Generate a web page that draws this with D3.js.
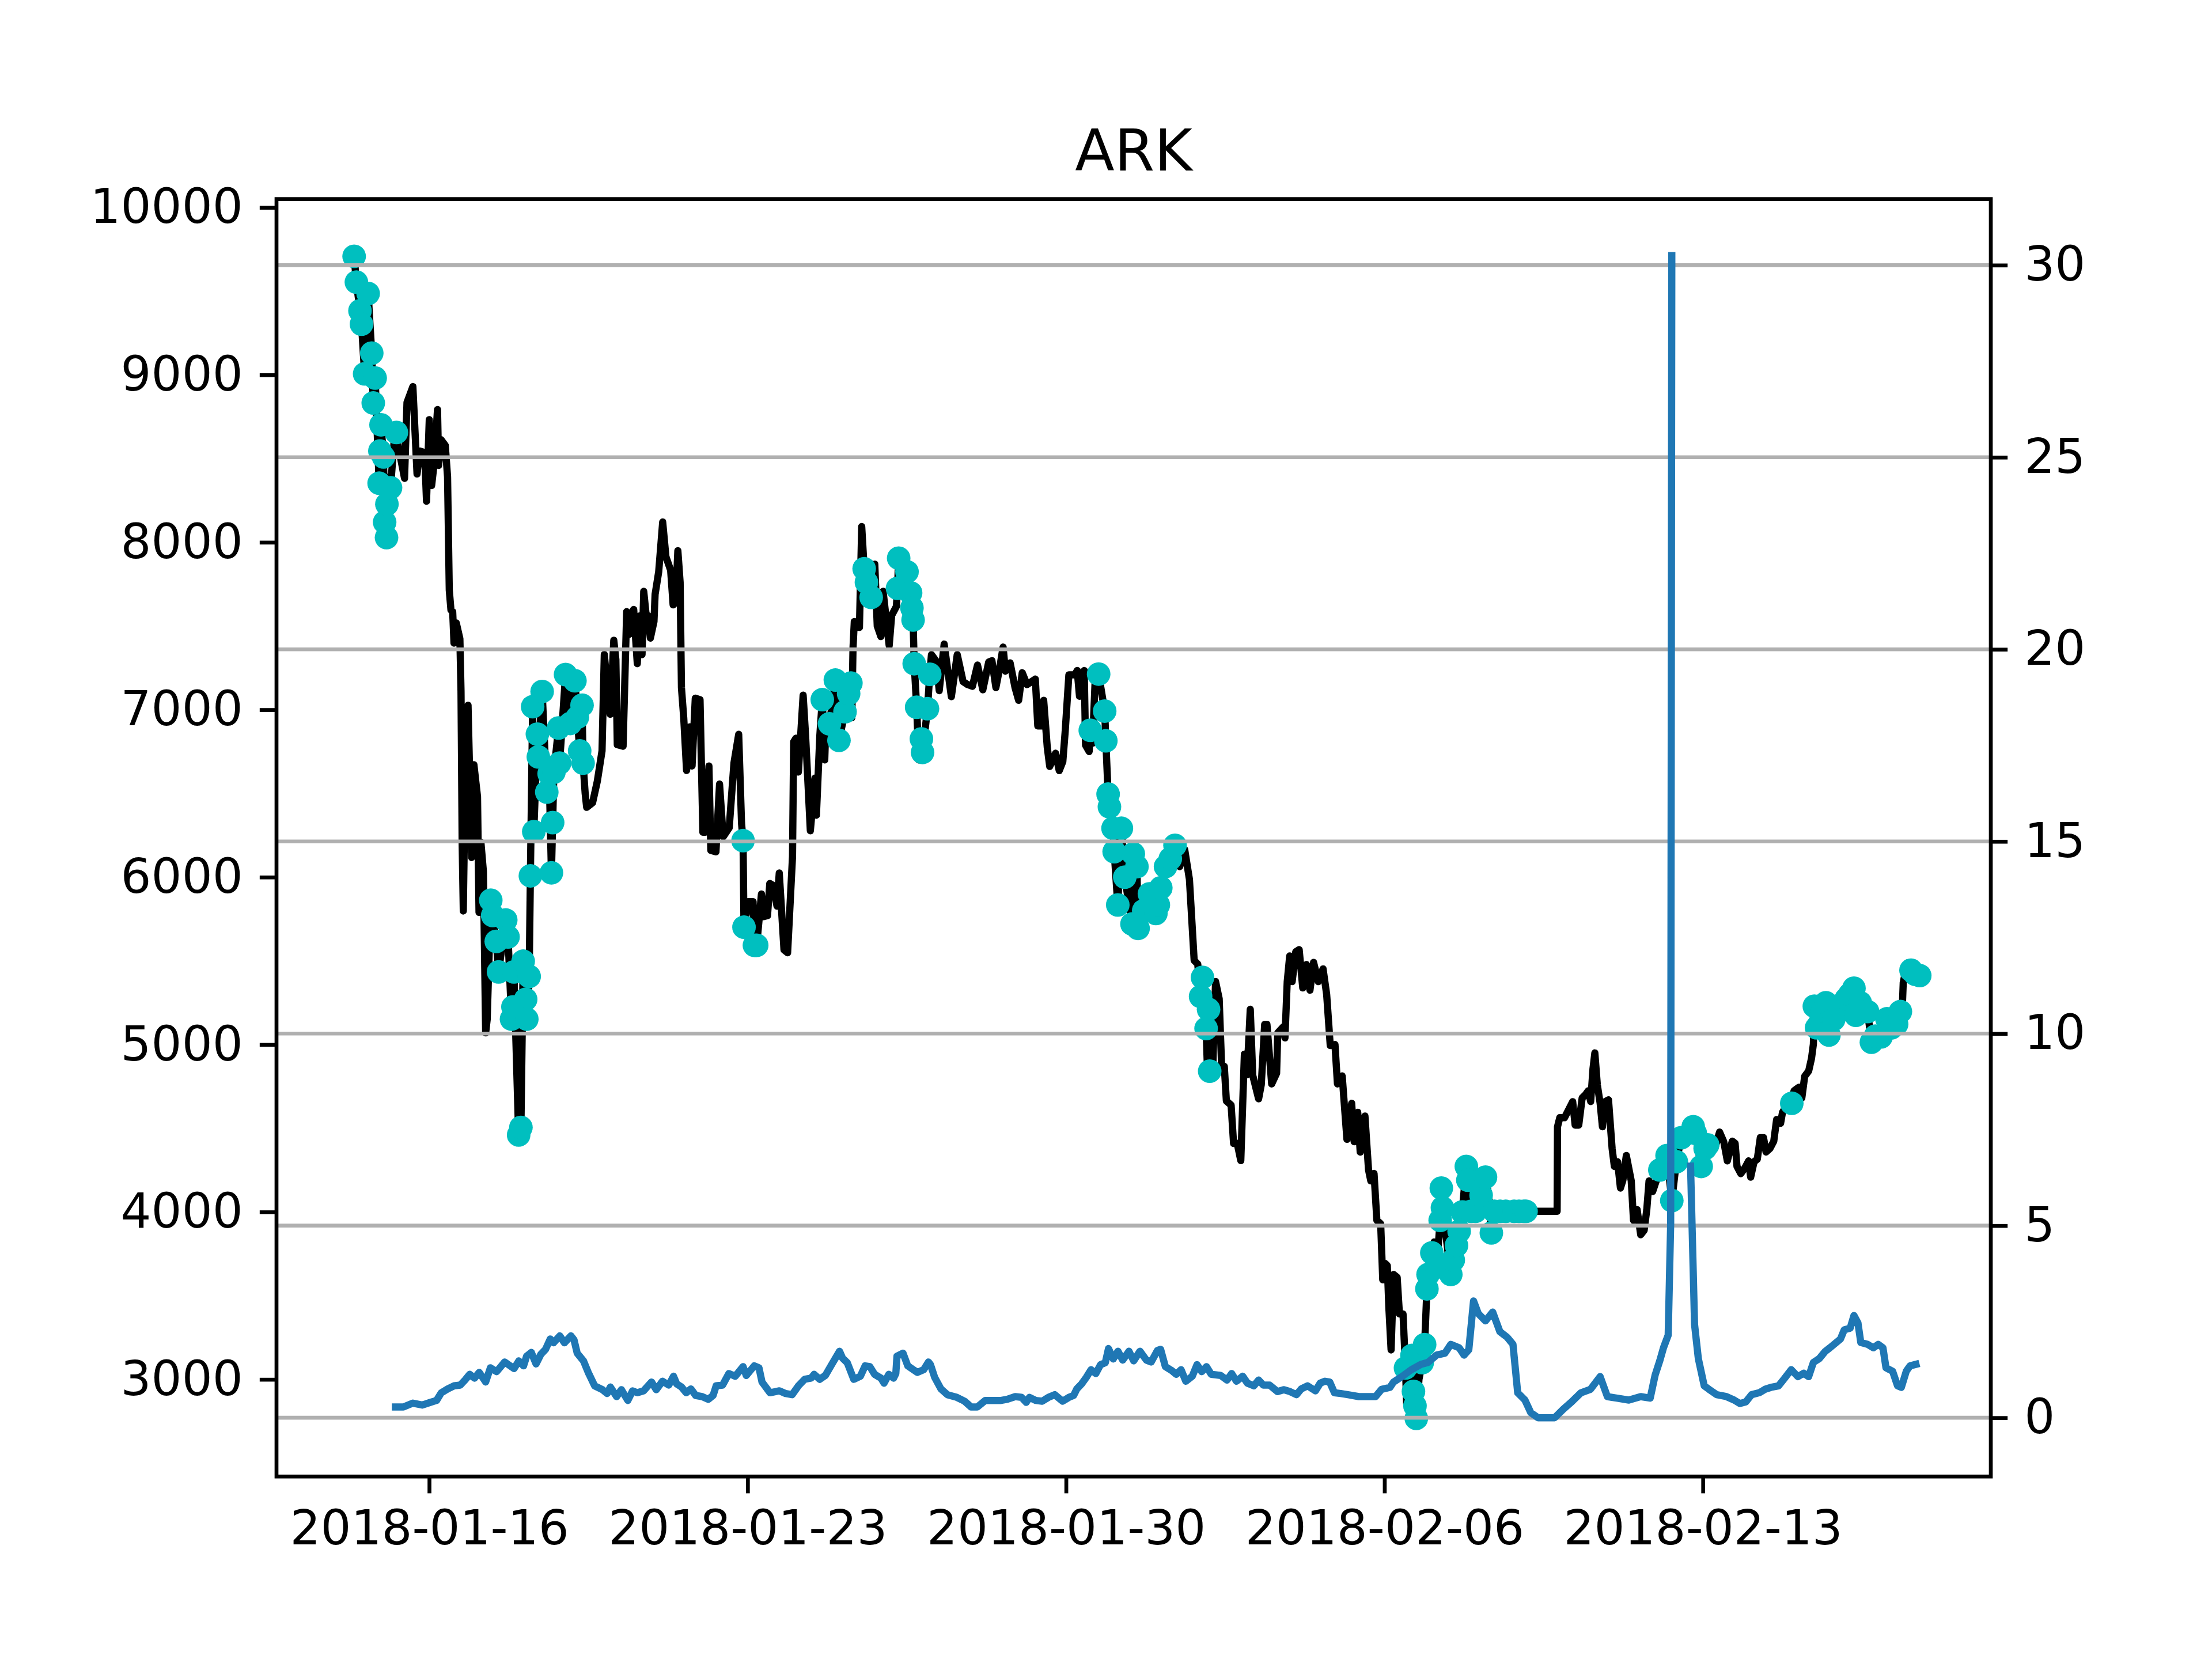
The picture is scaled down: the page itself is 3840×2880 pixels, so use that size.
<!DOCTYPE html>
<html>
<head>
<meta charset="utf-8">
<script src="https://cdn.jsdelivr.net/npm/d3@7"></script>
<style>
    html, body { margin: 0; padding: 0; background: #fff; }
    svg { display: block; font-family: "DejaVu Sans", sans-serif; }
</style>
</head>
<body>
<svg id="chart" width="3840" height="2880"></svg>
<script>
// hours are counted from 2018-01-14 00:00 UTC
const t0 = Date.UTC(2018, 0, 14);

const chartTitle = 'ARK';
const dateTicks = ['2018-01-16', '2018-01-23', '2018-01-30', '2018-02-06', '2018-02-13'];
const priceTicks = [3000, 4000, 5000, 6000, 7000, 8000, 9000, 10000];
const volTicks = [0, 5, 10, 15, 20, 25, 30];

// close price, [hour, price]
const arkClose = [
    [27.0, 8391], [29.45, 8596], [31.9, 8562], [35.0, 8382], [36.3, 8835], [39.4, 8930], [41.6, 8408],
    [43.1, 8545], [45.6, 8536], [46.6, 8245], [48.05, 8733], [49.3, 8339], [50.5, 8459], [52.4, 8793],
    [53.0, 8459], [54.25, 8613], [56.5, 8579], [57.7, 8391], [58.6, 7715], [59.5, 7595], [60.4, 7586],
    [61.1, 7398], [62.3, 7518], [64.2, 7424], [64.8, 7111], [65.4, 6208], [66.0, 5798], [66.7, 6350],
    [68.5, 7027], [70.4, 6117], [71.6, 6672], [73.5, 6481], [74.3, 5789], [75.3, 6208], [76.6, 6035],
    [77.8, 5070], [78.6, 5150],
    [130.3, 6500], [131.1, 6417], [134.2, 6444], [136.7, 6572], [139.2, 6754], [140.4, 7330], [141.5, 7200],
    [143.5, 6973], [145.4, 7415], [146.5, 7300], [147.25, 6791], [150.3, 6782], [152.2, 7586], [153.5, 7450],
    [155.0, 7580], [155.9, 7599], [157.8, 7275], [159.0, 7560], [160.3, 7329], [161.2, 7707], [162.5, 7563],
    [163.4, 7563], [164.7, 7428], [166.6, 7527], [167.2, 7689], [169.1, 7824], [171.2, 8121], [172.9, 7914],
    [175.4, 7833], [176.7, 7626], [178.0, 7640], [179.2, 7950], [180.4, 7761], [181.1, 7132], [182.3, 6952],
    [183.8, 6637], [185.5, 6898], [186.7, 6664], [188.4, 7069], [190.9, 7060], [192.4, 6268], [193.7, 6268],
    [195.6, 6664], [196.6, 6160], [199.3, 6151], [201.2, 6556], [203.1, 6241], [206.3, 6295], [208.8, 6682],
    [211.3, 6853], [212.8, 6322], [216.4, 5854], [218.9, 5854], [223.3, 5899], [224.5, 5764], [226.5, 5770],
    [227.7, 5962], [229.5, 5950], [231.5, 5827], [232.7, 6025], [235.2, 5566], [237.1, 5548], [239.7, 6124],
    [240.3, 6808], [241.5, 6830], [242.8, 6628], [245.3, 7087], [246.6, 6844], [249.1, 6277], [251.6, 6592],
    [252.3, 6370], [254.1, 6844], [256.7, 6700], [257.3, 6916], [271.0, 6952], [271.6, 7365], [272.3, 7527],
    [275.0, 7491], [276.2, 8094], [278.1, 7887], [283.1, 7869], [284.4, 7500], [286.3, 7437], [287.5, 7707],
    [290.7, 7383], [292.0, 7563], [294.5, 7617], [306.3, 6700], [313.0, 7329], [315.5, 7290], [317.1, 7114],
    [319.7, 7392], [323.5, 7078], [326.6, 7329], [329.7, 7168], [332.1, 7150], [334.6, 7140], [337.3, 7267],
    [340.1, 7119], [343.2, 7285], [344.9, 7293], [347.0, 7132], [349.0, 7250], [350.8, 7374], [352.0, 7230],
    [354.5, 7280], [357.1, 7132], [359.0, 7056], [360.9, 7221], [363.4, 7150], [367.8, 7183], [369.1, 6903],
    [371.2, 6903], [372.2, 7056], [374.1, 6776], [375.4, 6661], [378.5, 6740], [380.4, 6636], [382.3, 6690],
    [383.6, 6877], [385.5, 7208], [388.6, 7208], [389.9, 7234], [391.1, 7080], [393.6, 7234], [394.3, 6788],
    [396.2, 6750], [398.0, 6800], [399.3, 7157], [444.0, 6063], [446.6, 6165], [449.1, 5987], [451.6, 5503],
    [453.5, 5480], [458.5, 4892], [461.5, 4890], [462.9, 5376], [464.8, 5274], [466.1, 4867], [467.5, 4870],
    [468.6, 4663], [471.1, 4638], [472.4, 4409], [474.3, 4410], [476.2, 4307], [478.1, 4943], [479.5, 4820],
    [481.2, 5211], [482.5, 4816], [485.6, 4676], [487.0, 4760], [488.8, 5121], [490.0, 5121], [492.5, 4765],
    [495.1, 4829], [495.7, 5070], [498.9, 5109], [499.5, 5040], [500.7, 5376], [502.0, 5529], [503.3, 5376],
    [505.2, 5554], [507.0, 5567], [508.9, 5338], [510.8, 5478], [512.7, 5325], [514.6, 5491], [517.1, 5376],
    [519.6, 5452], [521.5, 5300], [523.4, 4994], [525.9, 5000], [527.2, 4765], [529.7, 4813], [532.2, 4434],
    [534.7, 4649], [536.0, 4420], [537.9, 4595], [539.2, 4358], [541.7, 4573], [543.6, 4251], [544.8, 4186],
    [546.5, 4230], [548.0, 3950], [550.0, 3930], [551.1, 3595], [552.4, 3692], [553.5, 3680], [554.3, 3434],
    [555.5, 3176], [556.8, 3627], [558.7, 3610], [559.9, 3391], [561.8, 3391], [563.7, 2854], [565.0, 3000],
    [570.2, 3000], [578.2, 3821], [584.0, 3900], [607.0, 4100], [635.0, 4004], [643.1, 4004], [643.3, 4509],
    [644.5, 4563], [647.0, 4563], [649.4, 4616], [651.3, 4659], [652.6, 4519], [654.5, 4519], [656.3, 4681],
    [658.0, 4700], [659.5, 4724], [660.8, 4660], [662.0, 4853], [663.0, 4950], [664.3, 4760], [665.8, 4649],
    [667.0, 4509], [668.3, 4659], [670.2, 4670], [672.1, 4380], [673.3, 4272], [675.0, 4300], [676.5, 4143],
    [677.8, 4190], [679.6, 4337], [682.2, 4186], [683.4, 3950], [685.3, 4014], [687.2, 3864], [689.0, 3890],
    [690.4, 4014], [691.6, 4186], [693.5, 4122], [711.0, 4460], [724.5, 4400], [726.3, 4380], [728.8, 4477],
    [731.0, 4420], [732.9, 4305], [735.5, 4423], [737.0, 4410], [738.0, 4272], [740.0, 4229], [742.0, 4260],
    [744.1, 4305], [745.2, 4208], [747.0, 4300], [748.7, 4315], [750.3, 4444], [752.0, 4444], [753.3, 4358],
    [755.4, 4380], [757.4, 4423], [758.9, 4552], [761.0, 4530], [762.0, 4595], [765.0, 4649], [768.1, 4724],
    [770.7, 4745], [772.2, 4681], [773.7, 4810], [775.8, 4842], [777.3, 4917], [778.3, 5003], [825.2, 5218],
    [825.7, 5369], [827.8, 5487]
];

// flagged hours (cyan dots), also part of the close series
const arkSignal = [
    [8.4, 9708], [9.6, 9554], [11.5, 9383], [12.3, 9303], [13.95, 9006], [15.8, 9486], [17.7, 9130],
    [18.5, 8832], [19.5, 8981], [21.6, 8353], [22.0, 8545], [22.6, 8702], [23.9, 8510], [24.5, 8120],
    [25.5, 8028], [25.7, 8228], [27.6, 8326], [30.7, 8656],
    [80.5, 5862], [81.5, 5771], [83.4, 5616], [84.6, 5434], [88.4, 5744], [89.6, 5643], [91.45, 5152],
    [92.2, 5225], [92.7, 5434], [95.2, 4460], [96.4, 4505], [97.6, 5498], [98.9, 5270], [99.5, 5152],
    [100.75, 5407], [101.4, 6008], [102.6, 7018], [103.2, 6272], [105.1, 6854], [105.6, 6718], [107.6, 7109],
    [110.05, 6508], [111.3, 6618], [112.5, 6026], [113.15, 6326], [113.8, 6627], [116.25, 6891], [116.8, 6681],
    [119.95, 7210], [122.45, 6918], [124.9, 7173], [126.2, 6955], [127.4, 6754], [128.65, 7027], [129.2, 6681],
    [213.6, 6218], [214.1, 5701], [219.6, 5593], [220.8, 5593],
    [255.4, 7060], [259.2, 6916], [262.3, 7177], [264.2, 6817], [267.4, 6988], [269.3, 7096], [270.5, 7159],
    [277.5, 7842], [278.7, 7761], [281.2, 7671],
    [295.1, 7725], [295.7, 7905], [300.1, 7824], [302.0, 7698], [302.7, 7608], [303.3, 7536], [303.9, 7275],
    [305.2, 7015], [307.7, 6826], [308.3, 6745], [310.9, 7006], [312.1, 7212],
    [396.8, 6877], [401.2, 7213], [404.4, 6992], [405.0, 6814], [406.2, 6496], [406.9, 6420], [408.8, 6292],
    [409.4, 6152], [411.3, 5834], [413.2, 6292], [415.0, 6000], [418.8, 5720], [419.5, 6139], [421.4, 6063],
    [422.0, 5694], [425.0, 5800], [428.0, 5900], [431.4, 5783], [432.7, 5834], [434.0, 5936], [436.5, 6063],
    [439.0, 6110], [441.5, 6190],
    [455.0, 5287], [456.0, 5401], [457.9, 5096], [459.2, 5210], [459.8, 4841],
    [563.1, 3068], [566.5, 3143], [567.3, 2928], [568.1, 2842], [568.8, 2767], [571.9, 3100], [573.2, 3208],
    [574.4, 3541], [575.0, 3627], [577.0, 3756], [579.5, 3670], [581.4, 3950], [582.0, 4143], [582.6, 4025],
    [587.0, 3627], [588.3, 3713], [590.0, 3800], [591.4, 3885], [593.0, 4000], [595.2, 4272], [596.0, 4190],
    [597.7, 4004], [600.0, 4004], [603.0, 4100], [605.3, 4208], [608.4, 3875], [610.0, 4004], [613.0, 4004],
    [616.0, 4004], [620.4, 4004], [623.0, 4004], [625.5, 4004], [626.7, 4004],
    [697.3, 4251], [701.1, 4337], [703.6, 4068], [706.0, 4300], [708.6, 4444],
    [714.9, 4509], [716.0, 4470], [719.1, 4272], [721.2, 4380], [722.5, 4401],
    [766.9, 4649],
    [778.8, 5229], [780.0, 5100], [781.4, 5122], [783.0, 5200], [784.9, 5250], [786.5, 5057], [789.0, 5150],
    [792.0, 5200], [795.6, 5272], [797.5, 5300], [799.7, 5337], [800.7, 5175], [803.0, 5250], [806.9, 5197],
    [808.9, 5014], [811.0, 5050], [814.0, 5046], [817.1, 5154], [819.5, 5100], [822.2, 5122], [824.2, 5197],
    [829.8, 5444], [832.0, 5420], [834.4, 5412]
];

// right axis series, [hour, value]; null = no value
const arkVol = [
    [30.2, 0.28], [34.4, 0.28], [39.4, 0.38], [44.4, 0.33], [48.6, 0.40], [51.9, 0.45], [54.4, 0.65],
    [57.8, 0.75], [61.1, 0.83], [64.4, 0.85], [66.9, 0.98], [69.4, 1.13], [71.9, 1.03], [74.4, 1.18],
    [77.8, 0.93], [80.3, 1.30], [83.6, 1.20], [87.8, 1.45], [92.8, 1.28], [95.3, 1.48], [97.8, 1.35],
    [99.4, 1.60], [101.9, 1.70], [104.4, 1.40], [106.9, 1.65], [109.4, 1.78], [111.9, 2.05], [113.6, 1.95],
    [116.9, 2.13], [119.4, 1.95], [122.8, 2.13], [124.4, 2.03], [126.1, 1.68], [129.4, 1.48], [131.9, 1.18],
    [135.3, 0.83], [139.4, 0.73], [141.9, 0.63], [143.6, 0.80], [146.9, 0.55], [149.4, 0.73], [152.8, 0.45],
    [155.3, 0.70], [157.8, 0.65], [161.1, 0.70], [165.3, 0.93], [167.8, 0.73], [171.1, 0.95], [174.4, 0.85],
    [176.9, 1.08], [178.6, 0.88], [181.1, 0.80], [183.6, 0.65], [186.1, 0.75], [188.6, 0.58], [192.0, 0.55],
    [195.3, 0.48], [197.8, 0.58], [199.4, 0.83], [202.8, 0.85], [206.1, 1.15], [209.5, 1.08], [213.6, 1.33],
    [215.3, 1.10], [219.5, 1.35], [222.0, 1.30], [223.6, 0.93], [227.8, 0.65], [232.8, 0.70], [236.1, 0.63],
    [239.5, 0.60], [242.8, 0.83], [246.1, 1.00], [249.5, 1.03], [251.1, 1.13], [254.0, 1.00], [257.0, 1.10],
    [260.3, 1.38], [264.5, 1.73], [266.1, 1.55], [268.6, 1.43], [272.0, 1.00], [275.5, 1.08], [278.0, 1.35],
    [280.5, 1.33], [283.0, 1.13], [286.4, 1.03], [288.0, 0.90], [290.5, 1.13], [293.0, 1.03], [294.2, 1.15],
    [294.8, 1.60], [298.0, 1.68], [300.5, 1.35], [305.5, 1.18], [308.9, 1.25], [311.4, 1.45], [312.5, 1.38],
    [314.7, 1.05], [318.0, 0.75], [321.4, 0.60], [326.4, 0.53], [330.5, 0.43], [333.9, 0.28], [337.2, 0.28],
    [341.4, 0.45], [346.4, 0.45], [349.7, 0.45], [353.0, 0.48], [357.2, 0.55], [360.5, 0.53], [363.0, 0.40],
    [364.7, 0.53], [368.0, 0.45], [371.4, 0.43], [374.7, 0.53], [378.0, 0.60], [382.2, 0.43], [385.5, 0.53],
    [388.0, 0.58], [389.7, 0.75], [392.2, 0.88], [394.7, 1.05], [397.2, 1.25], [399.7, 1.15], [402.2, 1.38],
    [404.7, 1.43], [406.4, 1.80], [408.9, 1.53], [411.4, 1.73], [413.9, 1.50], [417.2, 1.73], [419.7, 1.48],
    [423.0, 1.73], [426.4, 1.50], [428.9, 1.45], [432.2, 1.75], [433.9, 1.78], [436.4, 1.33], [439.7, 1.23],
    [442.2, 1.13], [444.7, 1.25], [447.2, 0.95], [450.6, 1.08], [453.1, 1.38], [455.6, 1.20], [458.1, 1.33],
    [460.6, 1.13], [465.6, 1.10], [468.9, 0.98], [471.4, 1.15], [473.9, 0.95], [477.2, 1.08], [479.7, 0.90],
    [483.1, 0.83], [485.6, 0.98], [488.1, 0.85], [491.4, 0.85], [495.6, 0.68], [498.9, 0.73], [502.2, 0.68],
    [505.6, 0.60], [508.1, 0.75], [511.4, 0.83], [515.6, 0.70], [518.1, 0.90], [520.6, 0.95], [523.1, 0.93],
    [525.6, 0.65], [528.9, 0.63], [532.7, 0.60], [538.5, 0.55], [547.3, 0.55], [550.5, 0.74], [554.9, 0.79],
    [556.8, 0.93], [561.2, 1.07], [566.2, 1.25], [571.3, 1.39], [575.0, 1.44], [579.5, 1.63], [583.9, 1.68],
    [587.0, 1.91], [591.4, 1.82], [594.0, 1.63], [596.5, 1.77], [599.0, 3.04], [601.5, 2.71], [605.3, 2.52],
    [609.1, 2.75], [612.9, 2.24], [616.6, 2.10], [619.8, 1.91], [622.3, 0.65], [626.1, 0.46], [629.2, 0.13],
    [633.0, 0.0], [641.8, 0.0], [646.3, 0.22], [650.7, 0.41], [655.7, 0.65], [660.7, 0.74], [665.8, 1.07],
    [669.6, 0.55], [674.6, 0.51], [680.9, 0.46], [687.2, 0.55], [692.2, 0.51], [694.8, 1.11], [697.3, 1.49],
    [699.2, 1.82], [701.7, 2.15], [703.0, 5.05], [703.6, 30.25], [708.0, null],
    [713.5, 6.55], [715.6, 2.43], [717.6, 1.54], [720.7, 0.83], [723.2, 0.74], [727.3, 0.60], [732.4, 0.55],
    [736.5, 0.46], [739.5, 0.37], [742.6, 0.41], [745.7, 0.60], [749.7, 0.65], [752.8, 0.74], [755.9, 0.79],
    [759.9, 0.83], [763.0, 1.02], [766.6, 1.25], [770.1, 1.07], [773.2, 1.16], [775.8, 1.07], [778.3, 1.44],
    [781.4, 1.54], [784.4, 1.72], [787.0, 1.82], [792.6, 2.05], [794.6, 2.29], [797.7, 2.33], [799.7, 2.66],
    [801.8, 2.47], [803.3, 1.96], [806.9, 1.91], [809.9, 1.82], [812.5, 1.91], [815.0, 1.82], [816.6, 1.30],
    [820.1, 1.21], [822.7, 0.83], [824.7, 0.79], [827.3, 1.21], [829.3, 1.35], [832.4, 1.39]
];

const pt = 600 / 72;
const fontSize = 10 * pt;

const margin = {
    top: 345.6,
    bottom: 316.8,
    left: 480,
    right: 384
};

let svg = d3.select('svg'),
    width = +svg.attr('width') - margin.left - margin.right,
    height = +svg.attr('height') - margin.top - margin.bottom;

svg.append('rect')
    .attr('width', +svg.attr('width'))
    .attr('height', +svg.attr('height'))
    .attr('fill', '#fff');

let g = svg.append('g')
    .attr('transform', `translate(${margin.left},${margin.top})`);

const at = h => new Date(t0 + h * 3600 * 1000);

let x = d3.scaleUtc()
    .domain([at(-32.55), at(871.9)])
    .range([0, width]);
let yPrice = d3.scaleLinear()
    .domain([2420, 10050])
    .range([height, 0]);
let yVol = d3.scaleLinear()
    .domain([-1.53, 31.72])
    .range([height, 0]);

// close line goes through every point, flagged ones included
let closeAll = arkClose.concat(arkSignal).sort((a, b) => a[0] - b[0]);

let priceLine = d3.line()
    .x(d => x(at(d[0])))
    .y(d => yPrice(d[1]));

g.append('path')
    .datum(closeAll)
    .attr('fill', 'none')
    .attr('stroke', '#000')
    .attr('stroke-width', 1.5 * pt)
    .attr('stroke-linejoin', 'round')
    .attr('stroke-linecap', 'square')
    .attr('d', priceLine);

g.append('g')
    .selectAll('circle')
    .data(arkSignal)
    .join('circle')
    .attr('cx', d => x(at(d[0])))
    .attr('cy', d => yPrice(d[1]))
    .attr('r', 20.5)
    .attr('fill', '#00bfbf');

// grid of the right axis
g.append('g')
    .selectAll('line')
    .data(volTicks)
    .join('line')
    .attr('x1', 0)
    .attr('x2', width)
    .attr('y1', d => yVol(d))
    .attr('y2', d => yVol(d))
    .attr('stroke', '#b0b0b0')
    .attr('stroke-width', 0.8 * pt);

let volLine = d3.line()
    .defined(d => d[1] !== null)
    .x(d => x(at(d[0])))
    .y(d => yVol(d[1]));

g.append('path')
    .datum(arkVol)
    .attr('fill', 'none')
    .attr('stroke', '#1f77b4')
    .attr('stroke-width', 1.5 * pt)
    .attr('stroke-linejoin', 'round')
    .attr('stroke-linecap', 'square')
    .attr('d', volLine);

// axes
let styleAxis = sel => {
    sel.select('.domain').remove();
    sel.attr('font-family', '"DejaVu Sans", sans-serif')
        .attr('font-size', fontSize);
    sel.selectAll('.tick line')
        .attr('stroke', '#000')
        .attr('stroke-width', 0.8 * pt);
    sel.selectAll('.tick text')
        .attr('fill', '#000');
};

let xAxis = d3.axisBottom(x)
    .tickValues(dateTicks.map(s => new Date(s + 'T00:00:00Z')))
    .tickFormat(d3.utcFormat('%Y-%m-%d'))
    .tickSizeOuter(0)
    .tickSize(3.5 * pt)
    .tickPadding(3.5 * pt);

g.append('g')
    .attr('transform', `translate(0,${height})`)
    .call(xAxis)
    .call(styleAxis);

g.append('g')
    .call(d3.axisLeft(yPrice)
        .tickValues(priceTicks)
        .tickFormat(d3.format('d'))
        .tickSizeOuter(0)
        .tickSize(3.5 * pt)
        .tickPadding(3.5 * pt))
    .call(styleAxis);

g.append('g')
    .attr('transform', `translate(${width},0)`)
    .call(d3.axisRight(yVol)
        .tickValues(volTicks)
        .tickFormat(d3.format('d'))
        .tickSizeOuter(0)
        .tickSize(3.5 * pt)
        .tickPadding(3.5 * pt))
    .call(styleAxis);

// frame
g.append('rect')
    .attr('width', width)
    .attr('height', height)
    .attr('fill', 'none')
    .attr('stroke', '#000')
    .attr('stroke-width', 0.8 * pt)
    .attr('stroke-linecap', 'square');

g.append('text')
    .attr('x', width / 2)
    .attr('y', -6 * pt)
    .attr('text-anchor', 'middle')
    .attr('font-size', 12 * pt)
    .attr('fill', '#000')
    .text(chartTitle);
</script>
</body>
</html>
